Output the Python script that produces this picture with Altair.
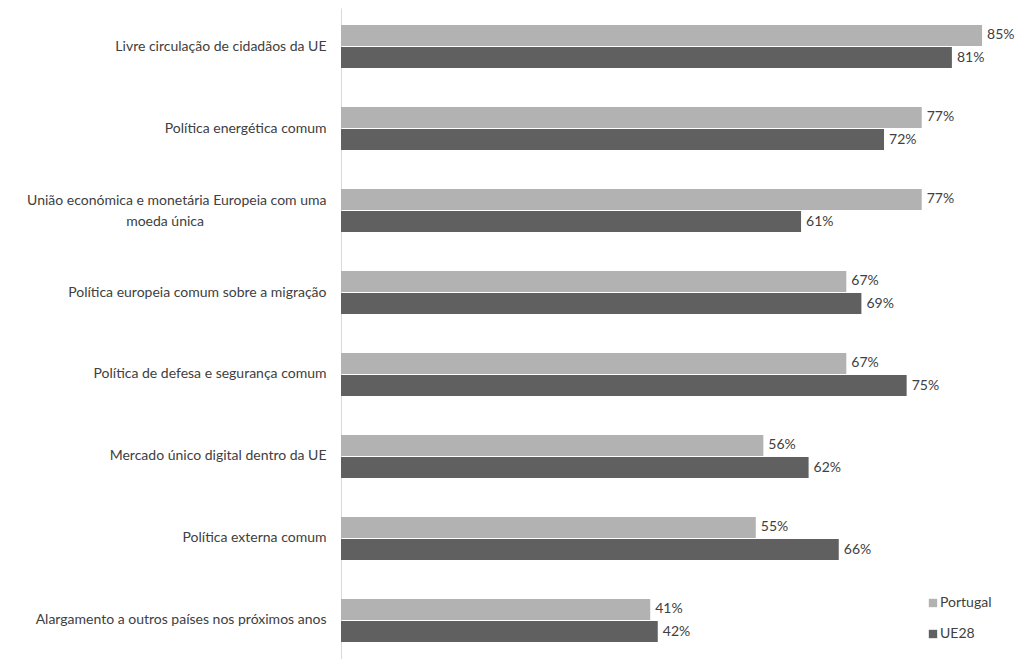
import altair as alt
import pandas as pd

categories = [
    "Livre circulação de cidadãos da UE",
    "Política energética comum",
    "União económica e monetária Europeia com uma|moeda única" + "\u2003" * 11 + "\u2002\u200d",
    "Política europeia comum sobre a migração",
    "Política de defesa e segurança comum",
    "Mercado único digital dentro da UE",
    "Política externa comum",
    "Alargamento a outros países nos próximos anos",
]
portugal = [85, 77, 77, 67, 67, 56, 55, 41]
ue28 = [81, 72, 61, 69, 75, 62, 66, 42]
series = ["Portugal", "UE28"]
colors = ["#b2b2b2", "#606060"]

rows = []
for c, p, u in zip(categories, portugal, ue28):
    rows.append({"cat": c, "serie": "Portugal", "v": p})
    rows.append({"cat": c, "serie": "UE28", "v": u})
df = pd.DataFrame(rows)
df["lbl"] = df["v"].astype(str) + "%"

FONT = "Lato"
FS = 14

y = alt.Y(
    "cat:N",
    sort=categories,
    scale=alt.Scale(paddingInner=0.46, paddingOuter=0.2),
    axis=alt.Axis(
        title=None,
        ticks=False,
        domainColor="#d9d9d9",
        domainWidth=1,
        labelFont=FONT,
        labelFontSize=FS,
        labelColor="#404040",
        labelPadding=15,
        labelLimit=400,
        minExtent=333,
        maxExtent=333,
        labelExpr="split(datum.label, '|')",
        labelLineHeight=21,
        labelOffset={"condition": {"test": "indexof(datum.label, '|') >= 0", "value": -10}, "value": 0},
    ),
)
yoff = alt.YOffset("serie:N", sort=series, scale=alt.Scale(paddingInner=0, paddingOuter=0))
x = alt.X("v:Q", scale=alt.Scale(domain=[0, 89.5], nice=False, zero=True), axis=None)

bars = alt.Chart(df).mark_bar(size=21).encode(
    x=x,
    y=y,
    yOffset=yoff,
    color=alt.Color(
        "serie:N",
        sort=series,
        scale=alt.Scale(domain=series, range=colors),
        legend=alt.Legend(
            title=None,
            orient="none",
            legendX=585,
            legendY=588,
            symbolType="square",
            symbolSize=70,
            symbolStrokeWidth=0,
            labelFont=FONT,
            labelFontSize=FS,
            labelColor="#404040",
            rowPadding=17,
            padding=0,
            labelOffset=0,
        ),
    ),
)

labels = alt.Chart(df).mark_text(
    align="left", baseline="middle", dx=5, font=FONT, fontSize=FS, color="#404040"
).encode(x=x, y=y, yOffset=yoff, text="lbl:N")

chart = (
    alt.layer(bars, labels)
    .properties(width=675, height=651, padding={"left": 0, "top": 0, "right": 0, "bottom": 0})
    .configure_view(stroke=None)
    .configure_axis(grid=False)
)

chart.save("out.html", embed_options={"renderer": "svg", "actions": False})
